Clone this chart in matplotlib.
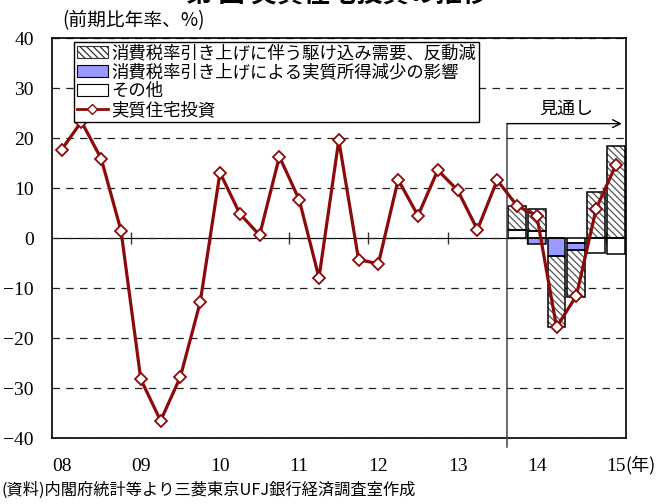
import matplotlib
matplotlib.use('Agg')
import matplotlib.pyplot as plt
from matplotlib.patches import Patch
from matplotlib.lines import Line2D
import numpy as np

plt.rcParams['font.family'] = ['Noto Sans CJK JP', 'DejaVu Sans']
plt.rcParams['hatch.linewidth'] = 0.9

# quarterly, 2008Q1 - 2015Q1
years = ['08', '09', '10', '11', '12', '13', '14', '15']
housing = [17.7, 23.3, 15.9, 1.5, -28.2, -36.5, -27.7, -12.8,
           13.1, 4.9, 0.6, 16.3, 7.7, -7.9, 19.6, -4.3,
           -5.1, 11.7, 4.5, 13.6, 9.6, 1.7, 11.6, 6.5,
           4.5, -17.8, -11.5, 5.9, 14.7]
# breakdown for the last six quarters
rush = [4.8, 4.3, -14.1, -9.5, 9.2, 18.4]
income = [0.0, -1.2, -3.6, -1.4, 0.0, 0.0]
other = [1.7, 1.5, 0.0, -0.9, -3.0, -3.2]

labels = ['消費税率引き上げに伴う駆け込み需要、反動減',
          '消費税率引き上げによる実質所得減少の影響',
          'その他',
          '実質住宅投資']

LINE_C = '#8c0a0a'
BLUE = '#9999ff'
HATCH = '\\\\\\\\\\'

fig = plt.figure(figsize=(6.63, 5.04), dpi=100)
ax = fig.add_axes([0.078, 0.1304, 0.866, 0.794])

x = np.arange(len(housing))
xb = x[-len(rush):]
w = 0.9

# stacked bars: positives upward, negatives downward
pos = np.zeros(len(rush))
neg = np.zeros(len(rush))
for vals, fc, hatch in [(other, 'white', None), (income, BLUE, None), (rush, 'white', HATCH)]:
    v = np.array(vals)
    base = np.where(v >= 0, pos, neg)
    if hatch:
        ax.bar(xb, v, w, bottom=base, facecolor=fc, edgecolor='#555555',
               linewidth=0, hatch=hatch, zorder=2)
    else:
        ax.bar(xb, v, w, bottom=base, facecolor=fc, linewidth=0, zorder=2)
    ax.bar(xb, v, w, bottom=base, fill=False, edgecolor='black', linewidth=1.1, zorder=2.5)
    pos = pos + np.where(v > 0, v, 0)
    neg = neg + np.where(v < 0, v, 0)

ax.plot(x, housing, color=LINE_C, lw=2.3, marker='D', ms=6.5,
        mfc='white', mec=LINE_C, mew=1.3, zorder=4, clip_on=False)

ax.set_xlim(-0.5, len(housing) - 0.5)
ax.set_ylim(-40, 40)
ax.set_yticks(range(-40, 41, 10))
ax.set_xticks(x[::4])
ax.set_xticklabels(years)
for t in ax.get_xticklabels() + ax.get_yticklabels():
    t.set_fontfamily('Liberation Serif')
    t.set_fontsize(14)
ax.tick_params(axis='both', length=0)
ax.tick_params(axis='y', pad=13)
ax.tick_params(axis='x', pad=14)
for s in ax.spines.values():
    s.set_linewidth(1.2)

ax.yaxis.grid(True, linestyle=(0, (6, 5)), color='#222222', lw=0.9)
ax.set_axisbelow(True)

# zero line with year-boundary ticks
sec = ax.secondary_xaxis(location=(0 - (-40)) / 80)
sec.set_xticks(np.arange(3.5, len(housing) - 1, 4))
sec.set_xticklabels([])
sec.tick_params(direction='inout', length=9, width=1.0, color='#333333')
sec.spines['bottom'].set_linewidth(1.5)
sec.spines['bottom'].set_color('#404040')

# forecast marker
fs = xb[0] - 0.5
ax.plot([fs, fs], [22.9, -41.8], color='#444444', lw=1.1, clip_on=False, zorder=3)
ax.annotate('', xy=(len(housing) - 0.7, 22.9), xytext=(fs, 22.9),
            arrowprops=dict(arrowstyle='->', color='black', lw=1.0,
                            shrinkA=0, shrinkB=0, mutation_scale=14))
ax.text(25.5, 25.8, '見通し', fontsize=13, ha='center', va='center')

handles = [Patch(facecolor='white', edgecolor='#333333', hatch=HATCH, lw=0.8),
           Patch(facecolor=BLUE, edgecolor='black', lw=0.8),
           Patch(facecolor='white', edgecolor='black', lw=0.8),
           Line2D([], [], color=LINE_C, lw=2, marker='D', ms=5.5, mfc='white', mec=LINE_C)]
leg = ax.legend(handles, labels, loc='upper left', bbox_to_anchor=(0.039, 0.991),
                fontsize=12.5, frameon=True, fancybox=False, edgecolor='black',
                framealpha=1, borderpad=0.15, labelspacing=0.05, handlelength=1.8,
                handleheight=0.7, handletextpad=0.2, borderaxespad=0)
leg.get_frame().set_linewidth(1.0)

fig.text(0.094, 0.96, '(前期比年率、%)', fontsize=13.5, va='center', ha='left')
fig.text(0.944, 0.077, '(年)', fontsize=13, va='center', ha='left')
fig.text(0.003, 0.028, '(資料)内閣府統計等より三菱東京UFJ銀行経済調査室作成',
         fontsize=11.7, va='center', ha='left')
# title sits mostly above the top edge, as in the reference
fig.text(0.509, 0.984, '第 図 実質住宅投資の推移', fontsize=19, fontweight='bold',
         ha='center', va='bottom')

fig.savefig('out.png', dpi=100)
